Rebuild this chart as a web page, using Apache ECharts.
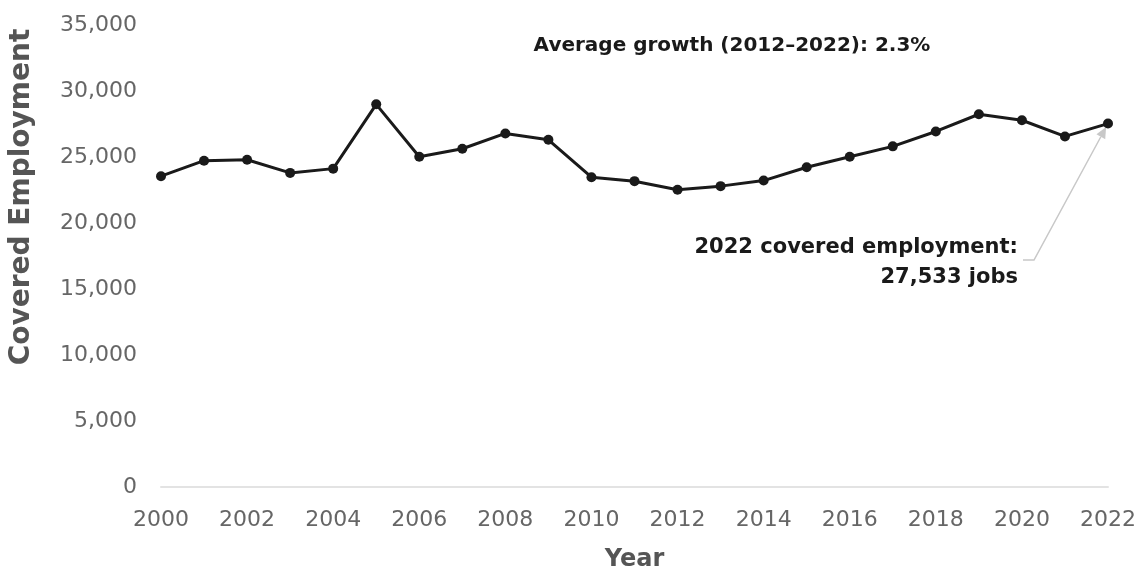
<!DOCTYPE html>
<html>
<head>
<meta charset="utf-8">
<script src="https://cdn.jsdelivr.net/npm/echarts@6/dist/echarts.min.js"></script>
<style>
html,body{margin:0;padding:0;background:#fff;}
#chart{width:1141px;height:577px;}
</style>
</head>
<body>
<div id="chart"></div>
<script>
const years = ['2000','2001','2002','2003','2004','2005','2006','2007','2008','2009','2010','2011','2012','2013','2014','2015','2016','2017','2018','2019','2020','2021','2022'];
const employment = [23546,24721,24796,23795,24119,28990,25022,25625,26784,26302,23471,23170,22515,22793,23215,24224,25022,25805,26935,28238,27786,26558,27533];
const yTicks = [0,5000,10000,15000,20000,25000,30000,35000];
const growthNote = 'Average growth (2012–2022): 2.3%';
const endNote1 = '2022 covered employment:';
const endNote2 = '27,533 jobs';

const FONT = 'DejaVu Sans';
const chart = echarts.init(document.getElementById('chart'));
chart.setOption({
  animation: false,
  grid: {left: 161, right: 33, top: 25, bottom: 83},
  xAxis: {
    type: 'category',
    data: years,
    boundaryGap: false,
    name: 'Year',
    nameLocation: 'middle',
    nameGap: 61,
    nameTextStyle: {fontFamily: FONT, fontWeight: 'bold', fontSize: 24, color: '#555'},
    axisLine: {lineStyle: {color: '#e3e3e3', width: 2}},
    axisTick: {show: false},
    axisLabel: {interval: 1, fontFamily: FONT, fontSize: 22, color: '#666', margin: 22},
    splitLine: {show: false}
  },
  yAxis: {
    type: 'value',
    min: yTicks[0],
    max: yTicks[yTicks.length - 1],
    interval: yTicks[1] - yTicks[0],
    axisLine: {show: false},
    axisTick: {show: false},
    splitLine: {show: false},
    axisLabel: {
      fontFamily: FONT, fontSize: 22, color: '#666', margin: 24,
      formatter: v => v.toLocaleString('en-US')
    }
  },
  series: [{
    type: 'line',
    data: employment,
    symbol: 'circle',
    symbolSize: 10,
    lineStyle: {color: '#1a1a1a', width: 3},
    itemStyle: {color: '#1a1a1a'}
  }]
});

// annotation with arrow pointing to the 2022 value
const last = years.length - 1;
const p = chart.convertToPixel({gridIndex: 0}, [years[last], employment[last]]);
const textRight = 1018;
const startX = 1034, startY = 260;
const dx = p[0] - startX, dy = p[1] - startY;
const len = Math.sqrt(dx*dx + dy*dy);
const ux = dx / len, uy = dy / len;
const tipX = p[0] - ux * 4, tipY = p[1] - uy * 4;
const ah = 11, aw = 5;
const bx = tipX - ux * ah, by = tipY - uy * ah;
chart.setOption({
  graphic: [
    {type: 'text', x: 732, y: 46, style: {text: growthNote, font: 'bold 20px ' + FONT, fill: '#1a1a1a', align: 'center', verticalAlign: 'middle'}},
    {type: 'text', x: 22, y: 197, rotation: Math.PI / 2,
     style: {text: 'Covered Employment', font: 'bold 28px ' + FONT, fill: '#555', align: 'center', verticalAlign: 'middle'}},
    {type: 'text', x: textRight, y: 248, style: {text: endNote1, font: 'bold 21px ' + FONT, fill: '#1a1a1a', align: 'right', verticalAlign: 'middle'}},
    {type: 'text', x: textRight, y: 278, style: {text: endNote2, font: 'bold 21px ' + FONT, fill: '#1a1a1a', align: 'right', verticalAlign: 'middle'}},
    {type: 'polyline', shape: {points: [[1023, startY], [startX, startY], [bx, by]]}, style: {stroke: '#c8c8c8', lineWidth: 1.5, fill: null}},
    {type: 'polygon', shape: {points: [[tipX, tipY], [bx - uy * aw, by + ux * aw], [bx + uy * aw, by - ux * aw]]}, style: {fill: '#c8c8c8'}}
  ]
});
</script>
</body>
</html>
